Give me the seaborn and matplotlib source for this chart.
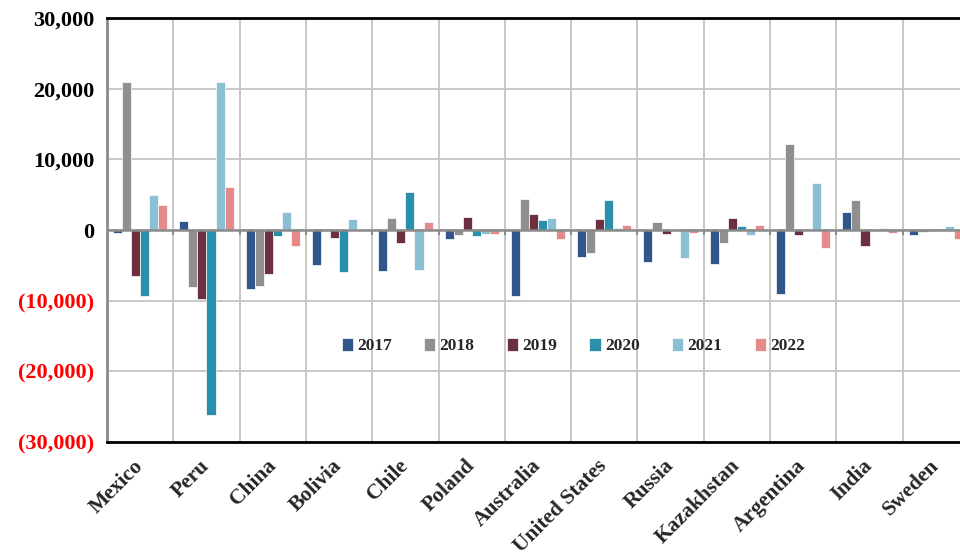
import numpy as np
import pandas as pd
import matplotlib
matplotlib.use("Agg")
import matplotlib.pyplot as plt
import seaborn as sns
from matplotlib.ticker import FuncFormatter

# ── Data ───────────────────────────────────────────────────────────────
COUNTRIES = ["Mexico", "Peru", "China", "Bolivia", "Chile", "Poland", "Australia",
             "United States", "Russia", "Kazakhstan", "Argentina", "India", "Sweden"]
YEARS = ["2017", "2018", "2019", "2020", "2021", "2022"]

v2017 = [-400, 1300, -8300, -5000, -5800, -1300, -9400, -3800, -4500, -4850, -9000, 2600, -750]
v2018 = [21000, -8100, -7900, -100, 1750, -750, 4400, -3300, 1100, -1900, 12100, 4200, -300]
v2019 = [-6500, -9700, -6200, -1200, -1900, 1900, 2300, 1500, -500, 1700, -750, -2300, -200]
v2020 = [-9400, -26200, -900, -6000, 5400, -900, 1400, 4200, 150, 500, 0, 0, 0]
v2021 = [4950, 21000, 2600, 1500, -5600, -500, 1700, 350, -4000, -750, 6700, 350, 500]
v2022 = [3600, 6100, -2200, 200, 1100, -500, -1300, 750, -400, 750, -2600, -400, -1300]

Y_TICKS = [-30000, -20000, -10000, 0, 10000, 20000, 30000]

COLORS = ["#30568B", "#8F8F8F", "#6B2F3F", "#2A8FAA", "#8BBFD3", "#E58A8A"]

df = pd.DataFrame({"country": COUNTRIES, "2017": v2017, "2018": v2018, "2019": v2019,
                   "2020": v2020, "2021": v2021, "2022": v2022})
long = df.melt(id_vars="country", var_name="year", value_name="value")

# ── Plot ───────────────────────────────────────────────────────────────
sns.set_theme(style="white")
plt.rcParams["font.family"] = ["Liberation Serif", "DejaVu Serif"]

fig = plt.figure(figsize=(9.6, 5.57), dpi=100)
ax = fig.add_axes([107 / 960, 1 - 442 / 557, 862 / 960, 424 / 557])

sns.barplot(data=long, x="country", y="value", hue="year", hue_order=YEARS,
            palette=COLORS, saturation=1, width=0.82, edgecolor="white", linewidth=0.5,
            errorbar=None, ax=ax, zorder=2)

ax.set_xlim(-0.5, len(COUNTRIES) - 0.5)
ax.set_ylim(-30000, 30000)
ax.set_yticks(Y_TICKS)
ax.yaxis.set_major_formatter(FuncFormatter(
    lambda v, p: f"{v:,.0f}" if v >= 0 else f"({-v:,.0f})"))
for lbl, t in zip(ax.get_yticklabels(), Y_TICKS):
    lbl.set_color("red" if t < 0 else "black")
    lbl.set_fontweight("bold")
    lbl.set_fontsize(16)

# grid: horizontal at y ticks, vertical at category boundaries
ax.set_xticks(np.arange(len(COUNTRIES) + 1) - 0.5, minor=True)
ax.grid(True, which="major", axis="y", color="#C8C8C8", lw=1.4, zorder=0)
ax.grid(True, which="minor", axis="x", color="#C8C8C8", lw=1.4, zorder=0)
ax.set_axisbelow(True)

ax.axhline(0, color="#8A8A8A", lw=1.8, zorder=3)
ax.vlines(np.arange(len(COUNTRIES) + 1) - 0.5, -700, 0, color="#8A8A8A", lw=1.5, zorder=3)

ax.set_xticks(np.arange(len(COUNTRIES)))
ax.set_xticklabels(COUNTRIES, rotation=45, ha="right", va="center",
                   rotation_mode="anchor", fontweight="bold", fontsize=15.5)
ax.tick_params(axis="x", which="both", length=0, pad=15)
ax.tick_params(axis="y", length=5, color="#8A8A8A", width=1.5, pad=4)

for s in ["top", "bottom"]:
    ax.spines[s].set_color("black")
    ax.spines[s].set_linewidth(2)
ax.spines["left"].set_color("#8A8A8A")
ax.spines["left"].set_linewidth(2)
ax.spines["right"].set_visible(False)

ax.set_xlabel("")
ax.set_ylabel("")

leg = ax.legend(loc="center", bbox_to_anchor=(0.541, 0.226), ncol=6, frameon=False,
                prop={"weight": "bold", "size": 12.5}, handlelength=0.65, handleheight=0.75,
                handletextpad=0.25, columnspacing=1.85)

fig.savefig("out.png", dpi=100)
plt.close()
